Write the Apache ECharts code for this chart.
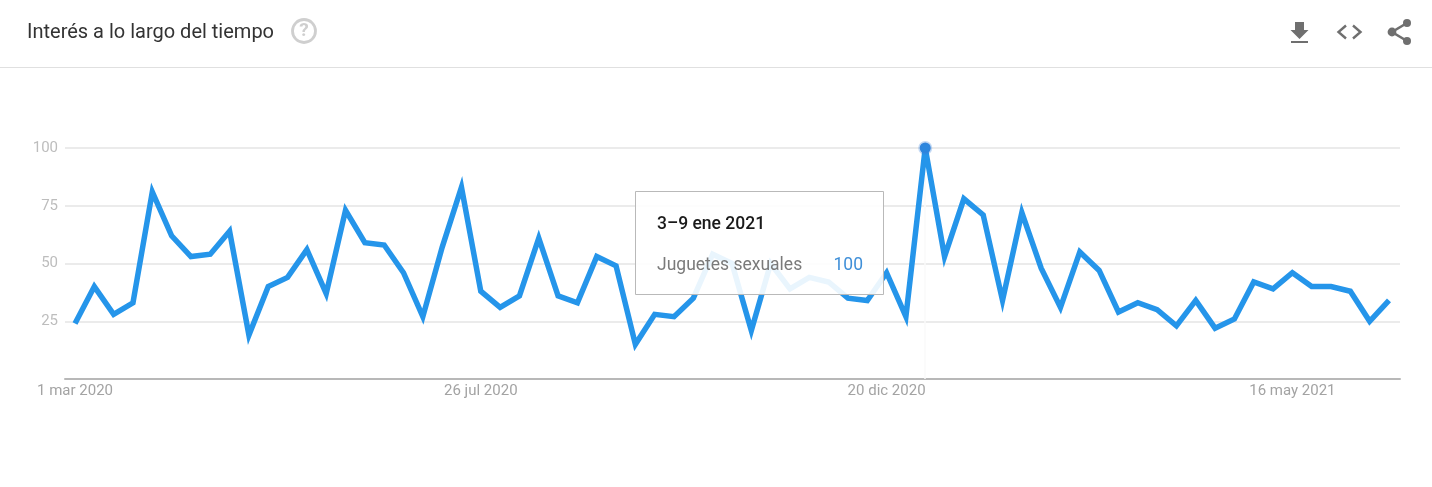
<!DOCTYPE html>
<html>
<head>
<meta charset="utf-8">
<style>html,body{margin:0;padding:0;background:#fff}#c{width:1432px;height:487px}</style>
<script src="https://cdn.jsdelivr.net/npm/echarts@6/dist/echarts.min.js"></script>
</head>
<body>
<div id="c"></div>
<script>
const values = [24,40,28,33,81,62,53,54,64,19,40,44,56,37,73,59,58,46,27,57,83,38,31,36,61,36,33,53,49,15,28,27,35,54,50,21,50,39,44,42,35,34,46,27,100,53,78,71,34,72,48,31,55,47,29,33,30,23,34,22,26,42,39,46,40,40,38,25,34];
const tickWeeks = [0,21,42,63];
const tickLabels = ['1 mar 2020','26 jul 2020','20 dic 2020','16 may 2021'];
const peakWeek = 44;
const seriesName = 'Juguetes sexuales';
const tooltipDate = '3–9 ene 2021';
const titleText = 'Interés a lo largo del tiempo';

const FONT = 'Roboto';
const ICON = '#6f6f6f';
const chart = echarts.init(document.getElementById('c'), null, {renderer:'canvas'});
chart.setOption({
  animation:false,
  backgroundColor:'#fff',
  grid:{left:65,right:32,top:148,bottom:108,containLabel:false},
  xAxis:{
    type:'value',min:-0.518,max:68.57,
    axisLine:{show:true,onZero:false,lineStyle:{color:'#b8b8b8',width:2}},
    axisTick:{show:false,customValues:tickWeeks},
    splitLine:{show:false},
    axisLabel:{customValues:tickWeeks,color:'#a3a3a3',fontFamily:FONT,fontSize:15,margin:5,showMinLabel:true,showMaxLabel:true,hideOverlap:false,
      formatter:v=>tickLabels[tickWeeks.indexOf(v)]||''}
  },
  yAxis:{
    type:'value',min:0,max:100,interval:25,
    axisLine:{show:false},axisTick:{show:false},
    splitLine:{lineStyle:{color:'#e4e4e4',width:1.5}},
    axisLabel:{color:'#bdbdbd',fontFamily:FONT,fontSize:15,margin:7,padding:[1,0,0,0],formatter:v=>v===0?'':String(v)}
  },
  series:[
    {type:'line',name:seriesName,data:values.map((v,i)=>[i,v]),showSymbol:false,symbol:'none',
     lineStyle:{color:'#2595ea',width:5.5,join:'miter',cap:'butt',miterLimit:10},z:3,
     markLine:{silent:true,symbol:'none',label:{show:false},lineStyle:{color:'#fafafa',width:1.5,type:'solid'},
       data:[{xAxis:peakWeek}],z:1}},
    {type:'line',data:[[peakWeek,values[peakWeek]]],symbol:'circle',symbolSize:11,showSymbol:true,
     itemStyle:{color:'#2b86de',borderColor:'rgba(60,130,220,0.3)',borderWidth:3},lineStyle:{width:0},z:4}
  ],
  graphic:[
    {type:'rect',silent:true,shape:{x:0,y:67,width:1432,height:1},style:{fill:'#e0e0e0'}},
    {type:'text',silent:true,x:27,y:33,style:{text:titleText,fontFamily:FONT,fontSize:20,fill:'#333',textVerticalAlign:'middle'}},
    {type:'circle',silent:true,shape:{cx:304,cy:31,r:11.5},style:{fill:'none',stroke:'#cfcfcf',lineWidth:2.8}},
    {type:'text',silent:true,x:304,y:31.5,style:{text:'?',fontFamily:FONT,fontSize:19,fontWeight:700,fill:'#cfcfcf',textAlign:'center',textVerticalAlign:'middle'}},
    // download icon
    {type:'polygon',silent:true,shape:{points:[[1295,22],[1304,22],[1304,30],[1308.5,30],[1299.5,39],[1290.5,30],[1295,30]]},style:{fill:ICON}},
    {type:'rect',silent:true,shape:{x:1291,y:41,width:17,height:2},style:{fill:ICON}},
    // code icon
    {type:'polyline',silent:true,shape:{points:[[1346,25.5],[1338.5,32],[1346,38.5]]},style:{fill:'none',stroke:ICON,lineWidth:2.4}},
    {type:'polyline',silent:true,shape:{points:[[1353,25.5],[1360.5,32],[1353,38.5]]},style:{fill:'none',stroke:ICON,lineWidth:2.4}},
    // share icon
    {type:'polyline',silent:true,shape:{points:[[1407,23],[1392,32],[1407,41]]},style:{fill:'none',stroke:ICON,lineWidth:2.6}},
    {type:'circle',silent:true,shape:{cx:1407,cy:23,r:4},style:{fill:ICON}},
    {type:'circle',silent:true,shape:{cx:1392,cy:32,r:4.4},style:{fill:ICON}},
    {type:'circle',silent:true,shape:{cx:1407,cy:41,r:4},style:{fill:ICON}},
    // tooltip
    {type:'rect',silent:true,z:100,shape:{x:635.5,y:191.5,width:248,height:103},style:{fill:'rgba(255,255,255,0.9)',stroke:'#b9b9b9',lineWidth:1}},
    {type:'text',silent:true,z:101,x:657,y:225,style:{text:tooltipDate,fontFamily:FONT,fontSize:17.5,fontWeight:500,fill:'#1a1a1a',textVerticalAlign:'middle'}},
    {type:'text',silent:true,z:101,x:657,y:266,style:{text:seriesName,fontFamily:FONT,fontSize:17.5,fill:'#7a7a7a',textVerticalAlign:'middle'}},
    {type:'text',silent:true,z:101,x:863,y:266,style:{text:String(values[peakWeek]),fontFamily:FONT,fontSize:17.5,fill:'#3f8fd8',textAlign:'right',textVerticalAlign:'middle'}}
  ]
});
</script>
</body>
</html>
